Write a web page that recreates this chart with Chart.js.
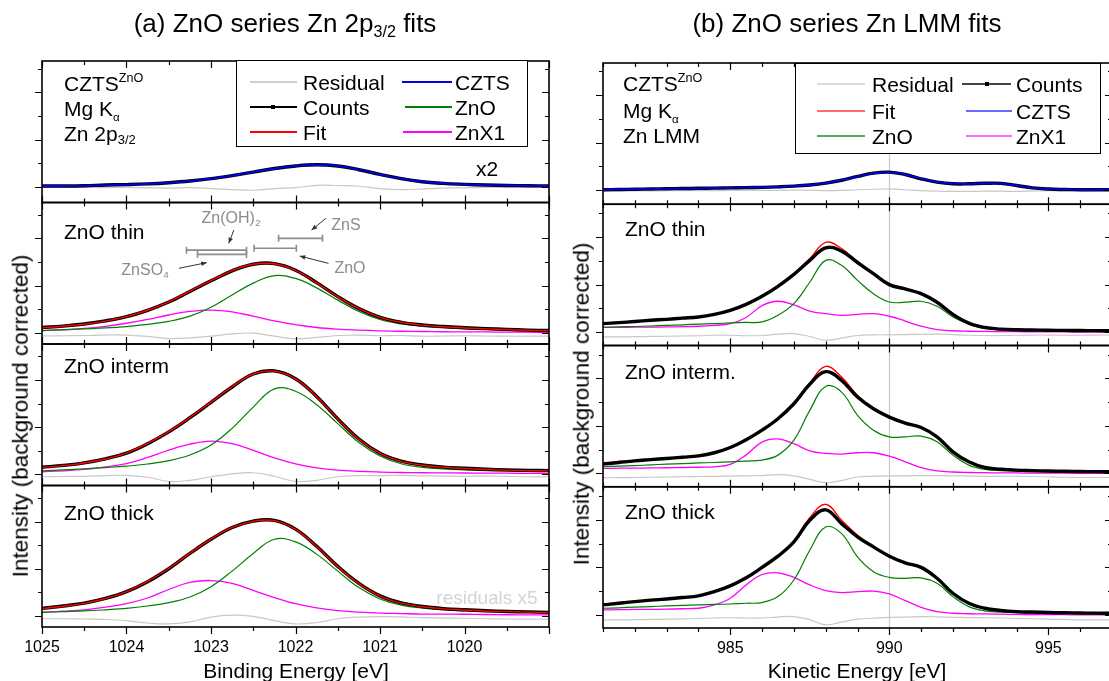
<!DOCTYPE html>
<html>
<head>
<meta charset="utf-8">
<title>ZnO series Zn 2p3/2 and Zn LMM fits</title>
<script src="https://cdn.jsdelivr.net/npm/chart.js@4.4.1/dist/chart.umd.min.js"></script>
<style>
    body { margin: 0; width: 1109px; height: 681px; overflow: hidden; position: relative; background: #fff; font-family: 'Liberation Sans', Arial, sans-serif; color: #000; }
    canvas { position: absolute; top: 0; }
    #zn2p-chart { left: 0; }
    #lmm-chart { left: 560px; }
    .t { position: absolute; white-space: nowrap; line-height: 1; font-size: 21px; transform: translateY(-50%); }
    .t.c { transform: translate(-50%, -50%); }
    .t.rot { transform: translate(-50%, -50%) rotate(-90deg); font-size: 22.5px; }
    .title { font-size: 26px; }
    .sb { font-size: 62%; vertical-align: -0.3em; line-height: 0; }
    .sp { font-size: 60%; vertical-align: 0.65em; line-height: 0; }
    .alpha { font-size: 55%; vertical-align: -0.5em; line-height: 0; }
    .legend { position: absolute; box-sizing: border-box; border: 1.3px solid #000; background: #fff; }
    .sw { position: absolute; height: 2px; margin-top: -1px; }
    .dot { position: absolute; width: 4px; height: 4px; margin-top: -2px; background: #000; }
    .ref { color: #8c8c8c; font-size: 16px; }
</style>
</head>
<body>
<canvas id="zn2p-chart" width="560" height="681"></canvas>
<canvas id="lmm-chart" width="560" height="681"></canvas>

<!-- (a) Zn 2p3/2 -->
<div class="t c title" style="left:285px;top:23px">(a) ZnO series Zn 2p<span class="sb">3/2</span> fits</div>
<div class="t" style="left:64px;top:83px">CZTS<span class="sp">ZnO</span></div>
<div class="t" style="left:64px;top:108px">Mg K<span class="alpha">α</span></div>
<div class="t" style="left:64px;top:133px">Zn 2p<span class="sb">3/2</span></div>
<div class="t c" style="left:487px;top:168px">x2</div>
<div class="legend" style="left:236px;top:60px;width:292px;height:87px"></div>
<div class="sw" style="left:250px;top:82px;width:47px;background:#cfcfcf"></div>
<div class="t" style="left:303px;top:82px">Residual</div>
<div class="sw" style="left:250px;top:107px;width:47px;background:#000"></div>
<div class="dot" style="left:271px;top:107px"></div>
<div class="t" style="left:303px;top:107px">Counts</div>
<div class="sw" style="left:250px;top:132px;width:47px;background:#ff0000"></div>
<div class="t" style="left:303px;top:132px">Fit</div>
<div class="sw" style="left:402px;top:82px;width:50px;background:#0000ee"></div>
<div class="t" style="left:455px;top:82px">CZTS</div>
<div class="sw" style="left:405px;top:107px;width:47px;background:#008000"></div>
<div class="t" style="left:455px;top:107px">ZnO</div>
<div class="sw" style="left:403px;top:132px;width:49px;background:#ff00ff"></div>
<div class="t" style="left:455px;top:132px">ZnX1</div>
<div class="t" style="left:64px;top:231px">ZnO thin</div>
<div class="t" style="left:64px;top:365px">ZnO interm</div>
<div class="t" style="left:64px;top:512px">ZnO thick</div>
<div class="t c ref" style="left:231px;top:218px">Zn(OH)<span class="sb">2</span></div>
<div class="t c ref" style="left:145px;top:270px">ZnSO<span class="sb">4</span></div>
<div class="t c ref" style="left:350px;top:268px">ZnO</div>
<div class="t c ref" style="left:346px;top:225px">ZnS</div>
<div class="t c" style="left:487px;top:597px;color:#d4d4d4;font-size:19px">residuals x5</div>
<div class="t c" style="left:296px;top:670px">Binding Energy [eV]</div>
<div class="t rot" style="left:21px;top:416px">Intensity (background corrected)</div>

<!-- (b) Zn LMM -->
<div class="t c title" style="left:847px;top:23px">(b) ZnO series Zn LMM fits</div>
<div class="t" style="left:623px;top:83px">CZTS<span class="sp">ZnO</span></div>
<div class="t" style="left:623px;top:110px">Mg K<span class="alpha">α</span></div>
<div class="t" style="left:623px;top:135px">Zn LMM</div>
<div class="legend" style="left:795px;top:63px;width:306px;height:91px"></div>
<div class="sw" style="left:817px;top:84px;width:48px;background:#dcdcdc"></div>
<div class="t" style="left:872px;top:84px">Residual</div>
<div class="sw" style="left:817px;top:111px;width:48px;background:#ff6a6a"></div>
<div class="t" style="left:872px;top:111px">Fit</div>
<div class="sw" style="left:817px;top:136px;width:48px;background:#5aaa5a"></div>
<div class="t" style="left:872px;top:136px">ZnO</div>
<div class="sw" style="left:962px;top:84px;width:49px;background:#444"></div>
<div class="dot" style="left:985px;top:84px"></div>
<div class="t" style="left:1016px;top:84px">Counts</div>
<div class="sw" style="left:966px;top:111px;width:46px;background:#6a6aff"></div>
<div class="t" style="left:1016px;top:111px">CZTS</div>
<div class="sw" style="left:966px;top:136px;width:46px;background:#ff6aff"></div>
<div class="t" style="left:1016px;top:136px">ZnX1</div>
<div class="t" style="left:625px;top:228px">ZnO thin</div>
<div class="t" style="left:625px;top:371px">ZnO interm.</div>
<div class="t" style="left:625px;top:511px">ZnO thick</div>
<div class="t c" style="left:857px;top:670px">Kinetic Energy [eV]</div>
<div class="t rot" style="left:582px;top:404px">Intensity (background corrected)</div>

<script>
// ZnO series fits: Zn 2p3/2 (binding energy) and Zn LMM (kinetic energy)

// energy axes
const bindingEnergy = [1025, 1024.75, 1024.5, 1024.25, 1024, 1023.75, 1023.5, 1023.25, 1023, 1022.75,
    1022.5, 1022.25, 1022, 1021.75, 1021.5, 1021.25, 1021, 1020.75, 1020.5, 1020.25,
    1020, 1019.75, 1019.5, 1019.25, 1019];
const kineticEnergy = [981, 981.5, 982, 982.5, 983, 983.5, 984, 984.5, 985, 985.5,
    986, 986.5, 987, 987.5, 988, 988.5, 989, 989.5, 990, 990.5,
    991, 991.5, 992, 992.5, 993, 993.5, 994, 994.5, 995, 995.5,
    996, 996.5, 997];

const bindingTicks = [1025, 1024, 1023, 1022, 1021, 1020];
const kineticTicks = [985, 990, 995];
const intensityTicks = [0, 1, 2, 3, 4, 5];
const kineticMarker = 990;

// panel ranges, top to bottom (CZTS, thin, interm, thick)
const zn2pPanelMin = [-0.67, -0.48, -0.47, -0.47];
const zn2pPanelMax = [5.33, 5.52, 5.52, 5.53];
const lmmPanelMin = [-0.59, -0.56, -0.56, -0.55];
const lmmPanelMax = [5.35, 5.38, 5.38, 5.39];

// Zn 2p3/2 - CZTS reference (x2)
const zn2pCztsCounts = [0.03, 0.03, 0.04, 0.07, 0.09, 0.12, 0.17, 0.24, 0.34, 0.47, 0.62, 0.77, 0.88, 0.93, 0.88, 0.72, 0.52, 0.34, 0.21, 0.14, 0.1, 0.07, 0.05, 0.04, 0.03];
const zn2pCztsFit = [0.03, 0.03, 0.04, 0.06, 0.09, 0.12, 0.17, 0.24, 0.34, 0.47, 0.62, 0.77, 0.88, 0.92, 0.88, 0.72, 0.52, 0.34, 0.22, 0.14, 0.1, 0.07, 0.05, 0.04, 0.03];
const zn2pCztsResidual = [-0.02, -0.03, -0.02, -0.04, -0.03, -0.05, -0.06, -0.04, -0.08, -0.12, -0.15, -0.08, -0.04, 0.06, 0.05, 0.02, -0.08, -0.12, -0.1, -0.06, -0.05, -0.03, -0.02, -0.02, -0.01];

// Zn 2p3/2 - ZnO thin
const zn2pThinCounts = [0.22, 0.28, 0.37, 0.5, 0.68, 0.95, 1.3, 1.75, 2.2, 2.62, 2.9, 2.93, 2.65, 2.12, 1.53, 1.02, 0.65, 0.44, 0.33, 0.26, 0.21, 0.17, 0.14, 0.11, 0.09];
const zn2pThinFit = [0.21, 0.27, 0.36, 0.49, 0.68, 0.95, 1.31, 1.76, 2.21, 2.63, 2.9, 2.92, 2.64, 2.11, 1.52, 1.02, 0.65, 0.44, 0.32, 0.25, 0.2, 0.16, 0.13, 0.1, 0.08];
const zn2pThinZnO = [0.09, 0.12, 0.16, 0.2, 0.26, 0.35, 0.48, 0.7, 1.08, 1.6, 2.1, 2.42, 2.3, 1.9, 1.38, 0.9, 0.56, 0.37, 0.27, 0.21, 0.17, 0.14, 0.11, 0.09, 0.08];
const zn2pThinZnX1 = [0.09, 0.13, 0.18, 0.27, 0.4, 0.56, 0.75, 0.9, 0.96, 0.88, 0.7, 0.5, 0.34, 0.22, 0.15, 0.11, 0.08, 0.06, 0.05, 0.04, 0.035, 0.03, 0.02, 0.02, 0.01];
const zn2pThinResidual = [-0.14, -0.13, -0.12, -0.1, -0.1, -0.16, -0.25, -0.22, -0.15, -0.05, -0.02, -0.15, -0.26, -0.2, -0.12, -0.1, -0.13, -0.12, -0.15, -0.14, -0.13, -0.14, -0.15, -0.15, -0.15];

// Zn 2p3/2 - ZnO interm
const zn2pIntermCounts = [0.3, 0.38, 0.49, 0.66, 0.9, 1.3, 1.8, 2.4, 3.05, 3.7, 4.25, 4.38, 4.05, 3.3, 2.35, 1.5, 0.9, 0.56, 0.4, 0.31, 0.26, 0.22, 0.19, 0.17, 0.16];
const zn2pIntermFit = [0.29, 0.37, 0.48, 0.65, 0.9, 1.31, 1.81, 2.41, 3.06, 3.71, 4.25, 4.37, 4.04, 3.29, 2.34, 1.49, 0.89, 0.55, 0.39, 0.3, 0.25, 0.21, 0.18, 0.16, 0.15];
const zn2pIntermZnO = [0.15, 0.19, 0.24, 0.29, 0.35, 0.44, 0.58, 0.82, 1.24, 1.95, 2.85, 3.62, 3.52, 2.95, 2.15, 1.35, 0.78, 0.45, 0.3, 0.23, 0.19, 0.16, 0.15, 0.14, 0.13];
const zn2pIntermZnX1 = [0.11, 0.15, 0.21, 0.32, 0.46, 0.72, 1.03, 1.28, 1.41, 1.3, 1.02, 0.7, 0.45, 0.28, 0.18, 0.13, 0.1, 0.08, 0.07, 0.065, 0.06, 0.055, 0.05, 0.045, 0.04];
const zn2pIntermResidual = [-0.1, -0.09, -0.08, -0.05, -0.04, -0.12, -0.3, -0.25, -0.1, 0.02, 0.07, -0.08, -0.3, -0.25, -0.1, -0.05, -0.05, -0.04, -0.06, -0.07, -0.08, -0.07, -0.08, -0.1, -0.1];

// Zn 2p3/2 - ZnO thick
const zn2pThickCounts = [0.32, 0.42, 0.54, 0.74, 1.03, 1.45, 2.0, 2.65, 3.25, 3.75, 4.02, 4.05, 3.68, 2.95, 2.1, 1.38, 0.85, 0.55, 0.4, 0.31, 0.26, 0.22, 0.19, 0.17, 0.15];
const zn2pThickFit = [0.31, 0.41, 0.53, 0.74, 1.03, 1.46, 2.01, 2.66, 3.26, 3.75, 4.01, 4.04, 3.67, 2.94, 2.09, 1.37, 0.84, 0.54, 0.39, 0.3, 0.25, 0.21, 0.18, 0.16, 0.14];
const zn2pThickZnO = [0.15, 0.18, 0.21, 0.26, 0.32, 0.42, 0.56, 0.8, 1.24, 1.9, 2.65, 3.25, 3.14, 2.62, 1.9, 1.2, 0.72, 0.46, 0.33, 0.26, 0.22, 0.19, 0.17, 0.16, 0.15];
const zn2pThickZnX1 = [0.15, 0.2, 0.26, 0.37, 0.52, 0.76, 1.12, 1.42, 1.5, 1.38, 1.08, 0.78, 0.52, 0.34, 0.22, 0.16, 0.12, 0.1, 0.08, 0.075, 0.07, 0.06, 0.05, 0.045, 0.04];
const zn2pThickResidual = [-0.12, -0.12, -0.13, -0.15, -0.2, -0.3, -0.34, -0.25, -0.05, 0.03, -0.02, -0.2, -0.34, -0.28, -0.12, -0.05, -0.03, -0.04, -0.07, -0.09, -0.1, -0.12, -0.13, -0.14, -0.14];

// reference binding energy ranges (ZnO thin panel)
const refLow = [1022.58, 1022.58, 1021.99, 1021.68];
const refHigh = [1023.29, 1023.16, 1022.49, 1022.2];
const refLevel = [3.5, 3.32, 3.58, 4.0];
// arrows pointing from the labels to the ranges: [x0, y0, x1, y1]
const refArrows = [
    [1022.73, 4.35, 1022.79, 3.79],
    [1023.38, 2.73, 1023.05, 2.97],
    [1021.61, 2.94, 1021.95, 3.25],
    [1021.64, 4.85, 1021.81, 4.35]
];

// Zn LMM - CZTS reference
const lmmCztsCounts = [0.02, 0.03, 0.04, 0.05, 0.06, 0.07, 0.08, 0.09, 0.1, 0.11, 0.12, 0.14, 0.17, 0.22, 0.3, 0.42, 0.58, 0.72, 0.76, 0.66, 0.48, 0.34, 0.27, 0.27, 0.29, 0.29, 0.2, 0.1, 0.05, 0.03, 0.02, 0.02, 0.02];
const lmmCztsFit = [0.02, 0.03, 0.04, 0.05, 0.06, 0.07, 0.08, 0.09, 0.1, 0.11, 0.12, 0.14, 0.17, 0.22, 0.3, 0.42, 0.57, 0.71, 0.75, 0.66, 0.49, 0.35, 0.28, 0.27, 0.28, 0.28, 0.2, 0.1, 0.05, 0.03, 0.02, 0.02, 0.02];
const lmmCztsResidual = [-0.04, -0.04, -0.03, -0.03, -0.02, -0.02, -0.02, -0.02, -0.01, -0.01, -0.01, -0.01, 0, 0, -0.02, -0.01, 0.02, 0.04, 0.06, 0.02, -0.02, -0.04, -0.05, -0.05, -0.04, -0.04, -0.05, -0.03, -0.02, -0.02, -0.02, -0.01, -0.01];

// Zn LMM - ZnO thin
const lmmThinCounts = [0.36, 0.4, 0.45, 0.5, 0.54, 0.59, 0.64, 0.75, 0.92, 1.17, 1.51, 1.93, 2.43, 3.02, 3.55, 3.41, 2.93, 2.46, 2.0, 1.82, 1.62, 1.26, 0.75, 0.38, 0.2, 0.13, 0.1, 0.09, 0.08, 0.075, 0.07, 0.065, 0.06];
const lmmThinFit = [0.36, 0.4, 0.45, 0.5, 0.54, 0.59, 0.64, 0.74, 0.9, 1.15, 1.5, 1.93, 2.45, 3.09, 3.78, 3.52, 2.95, 2.47, 2.0, 1.81, 1.6, 1.22, 0.72, 0.36, 0.19, 0.13, 0.1, 0.09, 0.08, 0.075, 0.07, 0.065, 0.06];
const lmmThinZnO = [0.2, 0.22, 0.24, 0.26, 0.29, 0.31, 0.34, 0.36, 0.39, 0.41, 0.43, 0.71, 1.2, 2.1, 3.02, 2.81, 2.18, 1.62, 1.27, 1.26, 1.3, 1.09, 0.64, 0.34, 0.15, 0.1, 0.08, 0.07, 0.06, 0.05, 0.04, 0.035, 0.03];
const lmmThinZnX1 = [0.2, 0.2, 0.21, 0.21, 0.22, 0.23, 0.25, 0.29, 0.36, 0.62, 1.12, 1.3, 1.15, 0.89, 0.78, 0.71, 0.75, 0.78, 0.67, 0.47, 0.25, 0.11, 0.06, 0.04, 0.03, 0.02, 0.02, 0.015, 0.01, 0.01, 0.005, 0, 0];
const lmmThinResidual = [-0.2, -0.2, -0.19, -0.18, -0.17, -0.16, -0.15, -0.13, -0.13, -0.15, -0.14, -0.08, -0.06, -0.18, -0.34, -0.25, -0.14, -0.11, -0.11, -0.1, -0.09, -0.08, -0.1, -0.13, -0.14, -0.14, -0.13, -0.12, -0.12, -0.13, -0.13, -0.12, -0.12];

// Zn LMM - ZnO interm.
const lmmIntermCounts = [0.39, 0.46, 0.53, 0.58, 0.63, 0.68, 0.74, 0.87, 1.09, 1.42, 1.82, 2.3, 2.93, 3.75, 4.28, 3.91, 3.21, 2.72, 2.37, 2.12, 1.93, 1.54, 0.91, 0.49, 0.25, 0.18, 0.14, 0.12, 0.1, 0.09, 0.08, 0.075, 0.07];
const lmmIntermFit = [0.45, 0.5, 0.55, 0.6, 0.64, 0.69, 0.74, 0.86, 1.07, 1.41, 1.8, 2.3, 2.95, 3.8, 4.5, 4.05, 3.28, 2.75, 2.38, 2.12, 1.92, 1.52, 0.88, 0.47, 0.24, 0.18, 0.14, 0.12, 0.1, 0.09, 0.08, 0.075, 0.07];
const lmmIntermZnO = [0.28, 0.31, 0.33, 0.36, 0.39, 0.41, 0.44, 0.46, 0.49, 0.52, 0.56, 0.77, 1.4, 2.65, 3.66, 3.42, 2.44, 1.82, 1.54, 1.54, 1.57, 1.33, 0.77, 0.35, 0.17, 0.12, 0.1, 0.08, 0.07, 0.06, 0.05, 0.045, 0.04];
const lmmIntermZnX1 = [0.21, 0.22, 0.22, 0.23, 0.24, 0.25, 0.26, 0.28, 0.38, 0.78, 1.32, 1.45, 1.25, 0.95, 0.84, 0.81, 0.87, 0.87, 0.73, 0.49, 0.24, 0.11, 0.06, 0.04, 0.03, 0.02, 0.02, 0.01, 0.01, 0.01, 0, 0, 0];
const lmmIntermResidual = [-0.18, -0.18, -0.17, -0.16, -0.15, -0.14, -0.13, -0.12, -0.11, -0.1, -0.09, -0.05, -0.1, -0.25, -0.39, -0.3, -0.15, -0.12, -0.1, -0.1, -0.09, -0.09, -0.1, -0.11, -0.12, -0.12, -0.12, -0.13, -0.15, -0.16, -0.17, -0.17, -0.17];

// Zn LMM - ZnO thick
const lmmThickCounts = [0.42, 0.49, 0.56, 0.62, 0.67, 0.73, 0.8, 0.98, 1.22, 1.56, 2.0, 2.47, 3.07, 3.98, 4.42, 3.84, 3.28, 2.86, 2.47, 2.19, 2.0, 1.54, 0.91, 0.49, 0.28, 0.19, 0.14, 0.12, 0.1, 0.09, 0.08, 0.075, 0.07];
const lmmThickFit = [0.45, 0.51, 0.57, 0.63, 0.68, 0.73, 0.8, 0.97, 1.2, 1.54, 1.98, 2.47, 3.1, 4.09, 4.65, 3.98, 3.35, 2.88, 2.47, 2.18, 1.98, 1.52, 0.88, 0.47, 0.27, 0.19, 0.14, 0.12, 0.1, 0.09, 0.08, 0.075, 0.07];
const lmmThickZnO = [0.28, 0.3, 0.33, 0.35, 0.38, 0.4, 0.42, 0.44, 0.46, 0.49, 0.52, 0.77, 1.47, 2.72, 3.7, 3.42, 2.44, 1.82, 1.58, 1.54, 1.56, 1.33, 0.77, 0.35, 0.17, 0.12, 0.1, 0.08, 0.07, 0.06, 0.05, 0.045, 0.04];
const lmmThickZnX1 = [0.21, 0.22, 0.23, 0.23, 0.24, 0.26, 0.28, 0.42, 0.7, 1.26, 1.7, 1.77, 1.58, 1.26, 1.02, 0.94, 0.98, 1.0, 0.88, 0.6, 0.32, 0.14, 0.07, 0.05, 0.04, 0.03, 0.02, 0.015, 0.01, 0.01, 0, 0, 0];
const lmmThickResidual = [-0.21, -0.21, -0.2, -0.19, -0.18, -0.17, -0.15, -0.13, -0.12, -0.13, -0.13, -0.09, -0.07, -0.2, -0.42, -0.3, -0.18, -0.14, -0.1, -0.09, -0.07, -0.08, -0.1, -0.11, -0.12, -0.13, -0.15, -0.16, -0.18, -0.19, -0.21, -0.21, -0.21];

const colors = {
    counts: '#000000',
    fit: '#ff0000',
    czts: '#0000ee',
    zno: '#008000',
    znx1: '#ff00ff',
    residual: '#c8c8c8',
    reference: '#8c8c8c'
};

Chart.defaults.font.family = "'Liberation Sans', Arial, sans-serif";
Chart.defaults.color = '#000';

function curve(xs, ys, color, width, axis, order) {
    return {
        data: xs.map((x, i) => ({ x: x, y: ys[i] })),
        borderColor: color,
        borderWidth: width,
        pointRadius: 0,
        fill: false,
        tension: 0.4,
        yAxisID: axis,
        order: order
    };
}

// Panel frames and inward/outward tick marks
const panelFrames = {
    id: 'panelFrames',
    beforeDatasetsDraw(chart, args, opts) {
        if (opts.marker == null) return;
        const { ctx, chartArea } = chart;
        const px = Math.round(chart.scales.x.getPixelForValue(opts.marker)) + 0.5;
        ctx.save();
        ctx.strokeStyle = '#c8c8c8';
        ctx.lineWidth = 1.2;
        ctx.beginPath();
        ctx.moveTo(px, chartArea.top);
        ctx.lineTo(px, chartArea.bottom);
        ctx.stroke();
        ctx.restore();
    },
    afterDatasetsDraw(chart, args, opts) {
        const { ctx, chartArea } = chart;
        const xs = chart.scales.x;
        const left = chartArea.left;
        const right = chartArea.right;
        const last = opts.panels.length - 1;
        ctx.save();
        ctx.strokeStyle = '#000';
        opts.panels.forEach((id, p) => {
            const s = chart.scales[id];
            const top = s.top;
            const bottom = s.bottom;
            ctx.lineWidth = 1.2;
            ctx.beginPath();
            intensityTicks.forEach(v => {
                const py = Math.round(s.getPixelForValue(v)) + 0.5;
                const len = v % 2 === 0 ? 7 : 4;
                ctx.moveTo(left - len, py);
                ctx.lineTo(left, py);
                ctx.moveTo(right - len, py);
                ctx.lineTo(right, py);
            });
            const steps = Math.round((xs.max - xs.min) / opts.minor);
            for (let k = 0; k <= steps; k++) {
                const v = xs.min + k * opts.minor;
                const major = Math.abs(v / opts.major - Math.round(v / opts.major)) < 1e-6;
                const len = major ? 7 : 4;
                const px = Math.round(xs.getPixelForValue(v)) + 0.5;
                ctx.moveTo(px, top);
                ctx.lineTo(px, top + len);
                ctx.moveTo(px, bottom);
                ctx.lineTo(px, p === last ? bottom + len : bottom - len);
            }
            ctx.stroke();
            ctx.lineWidth = 1.6;
            ctx.strokeRect(left, top, right - left, bottom - top);
        });
        ctx.restore();
    }
};

// Arrows from the reference labels in the ZnO thin panel
const referenceArrows = {
    id: 'referenceArrows',
    afterDatasetsDraw(chart) {
        const { ctx } = chart;
        const xs = chart.scales.x;
        const ys = chart.scales.p2;
        ctx.save();
        ctx.strokeStyle = '#333';
        ctx.fillStyle = '#333';
        ctx.lineWidth = 1;
        refArrows.forEach(a => {
            const x0 = xs.getPixelForValue(a[0]);
            const y0 = ys.getPixelForValue(a[1]);
            const x1 = xs.getPixelForValue(a[2]);
            const y1 = ys.getPixelForValue(a[3]);
            const ang = Math.atan2(y1 - y0, x1 - x0);
            ctx.beginPath();
            ctx.moveTo(x0, y0);
            ctx.lineTo(x1, y1);
            ctx.stroke();
            ctx.beginPath();
            ctx.moveTo(x1, y1);
            ctx.lineTo(x1 - 6 * Math.cos(ang - 0.4), y1 - 6 * Math.sin(ang - 0.4));
            ctx.lineTo(x1 - 6 * Math.cos(ang + 0.4), y1 - 6 * Math.sin(ang + 0.4));
            ctx.closePath();
            ctx.fill();
        });
        ctx.restore();
    }
};

function panelAxis(min, max, weight) {
    return {
        type: 'linear',
        position: 'left',
        stack: 'panels',
        stackWeight: 1,
        weight: weight,
        min: min,
        max: max,
        ticks: { display: false },
        grid: { display: false },
        border: { display: false },
        afterFit: s => { s.width = 0; }
    };
}

function energyAxis(min, max, reverse, tickValues, height) {
    return {
        type: 'linear',
        position: 'bottom',
        min: min,
        max: max,
        reverse: reverse,
        grid: { display: false, tickLength: 8 },
        border: { display: false },
        ticks: { padding: 3, font: { size: 16 }, color: '#000', maxRotation: 0, autoSkip: false, callback: v => String(v) },
        afterBuildTicks: s => { s.ticks = tickValues.map(v => ({ value: v })); },
        afterFit: s => { s.height = height; }
    };
}

function buildChart(canvasId, datasets, scales, padding, frames, extraPlugins) {
    return new Chart(document.getElementById(canvasId), {
        type: 'line',
        data: { datasets: datasets },
        options: {
            responsive: false,
            animation: false,
            events: [],
            layout: { padding: padding },
            plugins: {
                legend: { display: false },
                tooltip: { enabled: false },
                panelFrames: frames
            },
            scales: scales
        },
        plugins: [panelFrames].concat(extraPlugins)
    });
}

// (a) Zn 2p3/2
function createZn2pChart() {
    const datasets = [
        curve(bindingEnergy, zn2pCztsResidual, colors.residual, 1.2, 'p1', 9),
        curve(bindingEnergy, zn2pCztsCounts, colors.counts, 3.4, 'p1', 3),
        curve(bindingEnergy, zn2pCztsFit, colors.czts, 1.8, 'p1', 2)
    ];
    const panels = [
        ['p2', zn2pThinCounts, zn2pThinFit, zn2pThinZnO, zn2pThinZnX1, zn2pThinResidual],
        ['p3', zn2pIntermCounts, zn2pIntermFit, zn2pIntermZnO, zn2pIntermZnX1, zn2pIntermResidual],
        ['p4', zn2pThickCounts, zn2pThickFit, zn2pThickZnO, zn2pThickZnX1, zn2pThickResidual]
    ];
    panels.forEach(([axis, counts, fit, zno, znx1, residual]) => {
        datasets.push(curve(bindingEnergy, residual, colors.residual, 1.2, axis, 9));
        datasets.push(curve(bindingEnergy, znx1, colors.znx1, 1.3, axis, 6));
        datasets.push(curve(bindingEnergy, zno, colors.zno, 1.2, axis, 5));
        datasets.push(curve(bindingEnergy, counts, colors.counts, 3.4, axis, 3));
        datasets.push(curve(bindingEnergy, fit, colors.fit, 1.4, axis, 2));
    });
    refLow.forEach((low, i) => {
        datasets.push({
            data: [{ x: low, y: refLevel[i] }, { x: refHigh[i], y: refLevel[i] }],
            borderColor: colors.reference,
            borderWidth: 1.6,
            pointStyle: 'line',
            pointRadius: 3.5,
            pointRotation: 90,
            pointBorderColor: colors.reference,
            pointBorderWidth: 1.6,
            tension: 0,
            yAxisID: 'p2',
            order: 1
        });
    });
    const scales = {
        x: energyAxis(1019, 1025, true, bindingTicks, 54),
        p1: panelAxis(zn2pPanelMin[0], zn2pPanelMax[0], 4),
        p2: panelAxis(zn2pPanelMin[1], zn2pPanelMax[1], 3),
        p3: panelAxis(zn2pPanelMin[2], zn2pPanelMax[2], 2),
        p4: panelAxis(zn2pPanelMin[3], zn2pPanelMax[3], 1)
    };
    buildChart('zn2p-chart', datasets, scales, { left: 42, right: 11, top: 61, bottom: 0 },
        { panels: ['p1', 'p2', 'p3', 'p4'], minor: 0.5, major: 1, marker: null }, [referenceArrows]);
}

// (b) Zn LMM
function createLmmChart() {
    const datasets = [
        curve(kineticEnergy, lmmCztsResidual, colors.residual, 1.2, 'p1', 9),
        curve(kineticEnergy, lmmCztsCounts, colors.counts, 3.4, 'p1', 3),
        curve(kineticEnergy, lmmCztsFit, colors.czts, 1.8, 'p1', 2)
    ];
    const panels = [
        ['p2', lmmThinCounts, lmmThinFit, lmmThinZnO, lmmThinZnX1, lmmThinResidual],
        ['p3', lmmIntermCounts, lmmIntermFit, lmmIntermZnO, lmmIntermZnX1, lmmIntermResidual],
        ['p4', lmmThickCounts, lmmThickFit, lmmThickZnO, lmmThickZnX1, lmmThickResidual]
    ];
    panels.forEach(([axis, counts, fit, zno, znx1, residual]) => {
        datasets.push(curve(kineticEnergy, residual, colors.residual, 1.2, axis, 9));
        datasets.push(curve(kineticEnergy, znx1, colors.znx1, 1.3, axis, 6));
        datasets.push(curve(kineticEnergy, zno, colors.zno, 1.2, axis, 5));
        datasets.push(curve(kineticEnergy, fit, colors.fit, 1.4, axis, 3));
        datasets.push(curve(kineticEnergy, counts, colors.counts, 3.4, axis, 2));
    });
    const scales = {
        x: energyAxis(981, 997, false, kineticTicks, 53),
        p1: panelAxis(lmmPanelMin[0], lmmPanelMax[0], 4),
        p2: panelAxis(lmmPanelMin[1], lmmPanelMax[1], 3),
        p3: panelAxis(lmmPanelMin[2], lmmPanelMax[2], 2),
        p4: panelAxis(lmmPanelMin[3], lmmPanelMax[3], 1)
    };
    buildChart('lmm-chart', datasets, scales, { left: 43, right: 8, top: 63, bottom: 0 },
        { panels: ['p1', 'p2', 'p3', 'p4'], minor: 1, major: 5, marker: kineticMarker }, []);
}

createZn2pChart();
createLmmChart();
</script>
</body>
</html>
